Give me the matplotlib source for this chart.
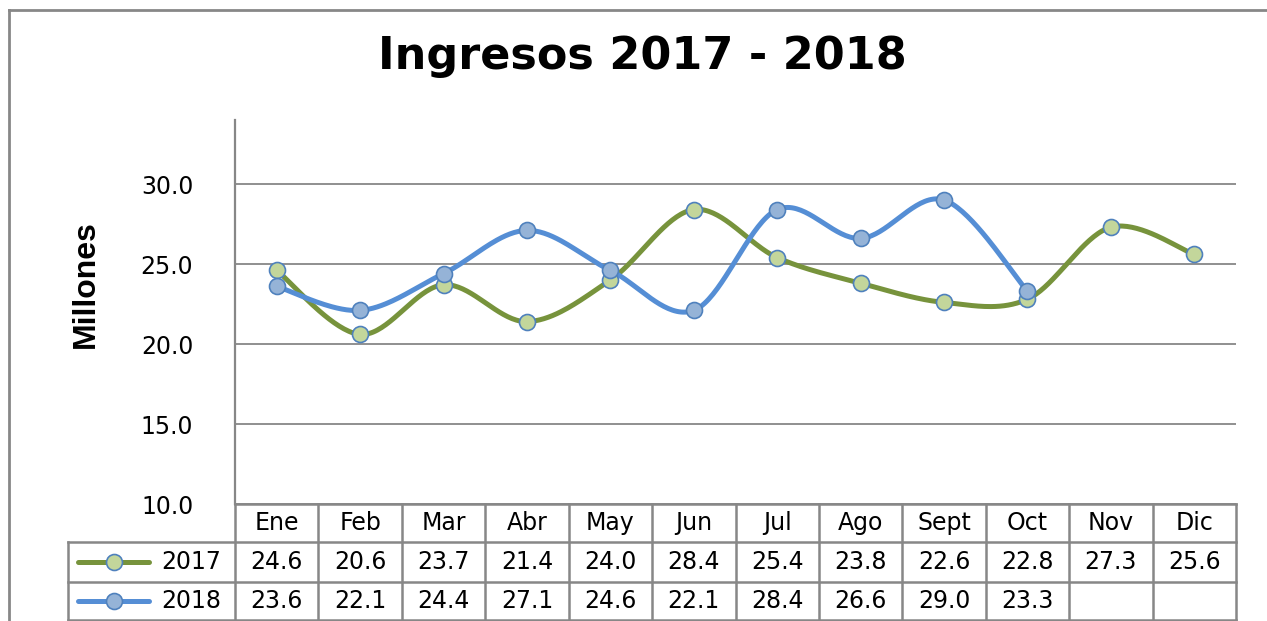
import numpy as np
import matplotlib
matplotlib.use("Agg")
import matplotlib.pyplot as plt
from matplotlib.lines import Line2D

months = ["Ene", "Feb", "Mar", "Abr", "May", "Jun", "Jul", "Ago", "Sept", "Oct", "Nov", "Dic"]
v2017 = [24.6, 20.6, 23.7, 21.4, 24.0, 28.4, 25.4, 23.8, 22.6, 22.8, 27.3, 25.6]
v2018 = [23.6, 22.1, 24.4, 27.1, 24.6, 22.1, 28.4, 26.6, 29.0, 23.3]
series_names = ["2017", "2018"]
yticks = [10, 15, 20, 25, 30]

W, H = 1267, 621
fig = plt.figure(figsize=(W / 100, H / 100), dpi=100)

def fx(px):
    return px / W

def fy(py):
    return 1 - py / H

GRID = "#878787"
C17, C17F = "#77933C", "#C3D69B"
C18, C18F = "#558ED5", "#95B3D7"
EDGE = "#4F81BD"
FONT = "DejaVu Sans"
FS = 17

ax = fig.add_axes([fx(235), fy(504), fx(1236) - fx(235), fy(120) - fy(504)])
ax.set_ylim(10, 34)
ax.set_xlim(-0.5, len(months) - 0.5)
ax.set_yticks(yticks)
ax.set_yticklabels([f"{t:.1f}" for t in yticks], fontsize=FS, family=FONT)
ax.tick_params(axis="y", length=0, pad=30)
ax.set_xticks([])
for s in ["top", "right", "bottom"]:
    ax.spines[s].set_visible(False)
ax.spines["left"].set_color(GRID)
ax.spines["left"].set_linewidth(1.6)
ax.grid(axis="y", color=GRID, linewidth=1.3)
ax.set_axisbelow(True)


def smooth(vals, n=40):
    x = np.arange(len(vals), dtype=float)
    y = np.asarray(vals, dtype=float)
    P = np.column_stack([x, y])
    out = []
    for i in range(len(P) - 1):
        p0 = P[i - 1] if i > 0 else P[i]
        p1, p2 = P[i], P[i + 1]
        p3 = P[i + 2] if i + 2 < len(P) else P[i + 1]
        b1 = p1 + (p2 - p0) / 6
        b2 = p2 - (p3 - p1) / 6
        t = np.linspace(0, 1, n)[:, None]
        seg = (1 - t) ** 3 * p1 + 3 * (1 - t) ** 2 * t * b1 + 3 * (1 - t) * t ** 2 * b2 + t ** 3 * p2
        out.append(seg if i == 0 else seg[1:])
    c = np.vstack(out)
    return c[:, 0], c[:, 1]

for vals, lc, mf in [(v2017, C17, C17F), (v2018, C18, C18F)]:
    sx, sy = smooth(vals)
    ax.plot(sx, sy, color=lc, linewidth=3.6, solid_capstyle="round", zorder=3)
    ax.plot(np.arange(len(vals)), vals, linestyle="none", marker="o", markersize=11.5,
            markerfacecolor=mf, markeredgecolor=EDGE, markeredgewidth=1.2, zorder=4)

fig.text(fx(86), fy(284), "Millones", rotation=90, ha="center", va="center",
         fontsize=23, fontweight="bold", family=["Liberation Sans", "DejaVu Sans"])

fig.text(fx(642), fy(57), "Ingresos 2017 - 2018", ha="center", va="center",
         fontsize=32, fontweight="bold", family=FONT)

# Data table
x0, x1 = 235, 1236
cw = (x1 - x0) / len(months)
rows = [504, 542, 582, 620]
legx0 = 68
lw_t = 1.8

def hline(xa, xb, y):
    fig.add_artist(Line2D([fx(xa), fx(xb)], [fy(y), fy(y)], color=GRID, linewidth=lw_t,
                          transform=fig.transFigure))

def vline(x, ya, yb):
    fig.add_artist(Line2D([fx(x), fx(x)], [fy(ya), fy(yb)], color=GRID, linewidth=lw_t,
                          transform=fig.transFigure))

hline(x0, x1, rows[0])
for r in rows[1:]:
    hline(legx0, x1, r)
vline(legx0, rows[1], rows[3])
for i in range(len(months) + 1):
    vline(x0 + i * cw, rows[0], rows[3])

for i, m in enumerate(months):
    cx = x0 + (i + 0.5) * cw
    fig.text(fx(cx), fy((rows[0] + rows[1]) / 2), m, ha="center", va="center",
             fontsize=FS, family=FONT)

for r, (vals, name, lc, mf) in enumerate([(v2017, "2017", C17, C17F), (v2018, "2018", C18, C18F)]):
    yc = (rows[r + 1] + rows[r + 2]) / 2
    for i, v in enumerate(vals):
        cx = x0 + (i + 0.5) * cw
        fig.text(fx(cx), fy(yc), f"{v:.1f}", ha="center", va="center", fontsize=FS, family=FONT)
    fig.add_artist(Line2D([fx(78), fx(149)], [fy(yc), fy(yc)], color=lc, linewidth=3.6,
                          solid_capstyle="round", transform=fig.transFigure))
    fig.add_artist(Line2D([fx(113.5)], [fy(yc)], linestyle="none", marker="o", markersize=11.5,
                          markerfacecolor=mf, markeredgecolor=EDGE, markeredgewidth=1.2,
                          transform=fig.transFigure))
    fig.text(fx(191), fy(yc), name, ha="center", va="center", fontsize=FS, family=FONT)

# outer chart border (partially cropped)
fig.add_artist(Line2D([fx(9), 1.0], [fy(10), fy(10)], color=GRID, linewidth=2, transform=fig.transFigure))
fig.add_artist(Line2D([fx(9), fx(9)], [fy(10), 0.0], color=GRID, linewidth=2, transform=fig.transFigure))

fig.savefig("out.png", dpi=100)
